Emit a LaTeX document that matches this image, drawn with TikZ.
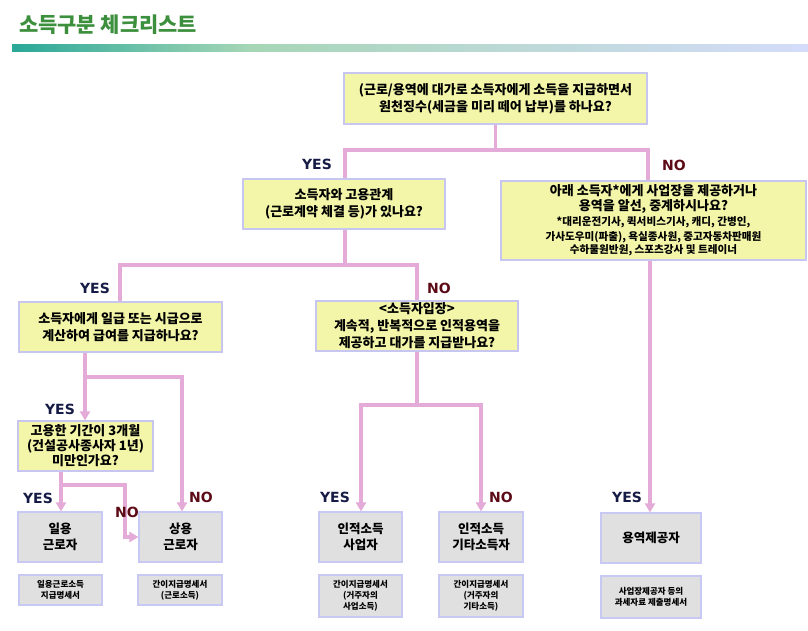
\documentclass[tikz,border=0pt]{standalone}
\usepackage{fontspec}
\setmainfont{Noto Sans CJK KR}
\newfontfamily\latinb{DejaVu Sans}
\usetikzlibrary{arrows.meta}
\definecolor{qfill}{HTML}{F3F6A8}
\definecolor{qedge}{HTML}{C6C6F0}
\definecolor{gfill}{HTML}{E0E0E0}
\definecolor{gedge}{HTML}{C8C8F4}
\definecolor{pinkline}{HTML}{E4AAD8}
\definecolor{yescol}{HTML}{151B45}
\definecolor{nocol}{HTML}{5C0A16}
\definecolor{titlegreen}{HTML}{3C8F3C}
\definecolor{barA}{HTML}{2AA898}
\definecolor{barB}{HTML}{A6D6B6}
\definecolor{barC}{HTML}{D4DCFA}
\tikzset{
  qbox/.style={draw=qedge, fill=qfill, line width=1.2pt, align=center, inner sep=0pt,
    font=\bfseries\fontsize{13}{17}\selectfont},
  gbox/.style={draw=gedge, fill=gfill, line width=1.2pt, align=center, inner sep=0pt,
    font=\bfseries\fontsize{12.5}{16}\selectfont},
  sbox/.style={draw=gedge, fill=gfill, line width=1.2pt, align=center, inner sep=0pt,
    font=\bfseries\fontsize{8.5}{11}\selectfont},
  conn/.style={draw=pinkline, line width=3.2pt},
  aconn/.style={conn, -{Triangle[length=9pt,width=10pt]}, color=pinkline},
  yeslab/.style={text=yescol, font=\latinb\bfseries\fontsize{14}{14}\selectfont, inner sep=0pt},
  nolab/.style={text=nocol, font=\latinb\bfseries\fontsize{14}{14}\selectfont, inner sep=0pt}
}
\begin{document}
\begin{tikzpicture}[x=1pt,y=-1pt]
\useasboundingbox (0,0) rectangle (808,631);
\fill[white] (0,0) rectangle (808,631);
% title
\node[anchor=west, text=titlegreen, font=\bfseries\fontsize{20.9}{21}\selectfont, inner sep=0pt] (title) at (19,25) {소득구분 체크리스트};
\shade[left color=barA, right color=barB] (12,45) rectangle (250,51.5);
\shade[left color=barB, right color=barC] (249.5,45) rectangle (808,51.5);

% question boxes
\node[qbox, minimum width=303pt, minimum height=51pt] (q1) at (495.5,98.5)
  {(근로/용역에 대가로 소득자에게 소득을 지급하면서\\원천징수(세금을 미리 떼어 납부)를 하나요?};
\node[qbox, minimum width=202pt, minimum height=50pt] (q2) at (344,204)
  {소득자와 고용관계\\(근로계약 체결 등)가 있나요?};
\node[qbox, minimum width=305pt, minimum height=79pt, font=\bfseries\fontsize{13}{15}\selectfont] (q3) at (653.5,220.5)
  {아래 소득자*에게 사업장을 제공하거나\\
   용역을 알선, 중계하시나요?\\
   \fontsize{10.6}{13}\selectfont *대리운전기사, 퀵서비스기사, 캐디, 간병인,\\
   \fontsize{10.6}{13}\selectfont 가사도우미(파출), 욕실종사원, 중고자동차판매원\\[-2pt]
   \fontsize{10.6}{13}\selectfont 수하물원반원, 스포츠강사 및 트레이너};
\node[qbox, minimum width=203pt, minimum height=50pt] (q4) at (120.5,327)
  {소득자에게 일급 또는 시급으로\\계산하여 급여를 지급하나요?};
\node[qbox, minimum width=202pt, minimum height=50pt] (q5) at (417,326)
  {<소득자입장>\\계속적, 반복적으로 인적용역을\\제공하고 대가를 지급받나요?};
\node[qbox, minimum width=135pt, minimum height=50pt, font=\bfseries\fontsize{13}{15}\selectfont] (q6) at (85.5,446)
  {고용한 기간이 3개월\\(건설공사종사자 1년)\\미만인가요?};

% result boxes
\node[gbox, minimum width=84pt, minimum height=50pt] (g1) at (60,537) {일용\\근로자};
\node[gbox, minimum width=83pt, minimum height=50pt] (g2) at (180.5,537) {상용\\근로자};
\node[gbox, minimum width=83pt, minimum height=50pt] (g3) at (360.5,537) {인적소득\\사업자};
\node[gbox, minimum width=84pt, minimum height=50pt] (g4) at (481,537) {인적소득\\기타소득자};
\node[gbox, minimum width=100pt, minimum height=50pt] (g5) at (651,538) {용역제공자};

% small boxes
\node[sbox, minimum width=83pt, minimum height=30pt] (s1) at (60.5,590) {일용근로소득\\지급명세서};
\node[sbox, minimum width=84pt, minimum height=30pt] (s2) at (180,590) {간이지급명세서\\(근로소득)};
\node[sbox, minimum width=83pt, minimum height=42pt] (s3) at (360.5,596) {간이지급명세서\\(거주자의\\사업소득)};
\node[sbox, minimum width=84pt, minimum height=42pt] (s4) at (481,596) {간이지급명세서\\(거주자의\\기타소득)};
\node[sbox, minimum width=100pt, minimum height=42pt] (s5) at (651,597) {사업장제공자 등의\\과세자료 제출명세서};

% connectors
\coordinate (j1l) at (345,150);
\coordinate (j1r) at (648,150);
\draw[conn] (q1.south) -- (q1.south |- j1l);
\draw[conn] (q2.north -| j1l) -- (j1l) -- (j1r) -- (q3.north -| j1r);

\coordinate (j2) at (345,265);
\coordinate (j2l) at (120,265);
\coordinate (j2r) at (417,265);
\draw[conn] (q2.south -| j2) -- (j2);
\draw[conn] (q4.north -| j2l) -- (j2l) -- (j2r) -- (q5.north -| j2r);

\coordinate (j3) at (85,377);
\coordinate (j3r) at (182,377);
\draw[aconn] (q4.south -| j3) -- (q6.north -| j3);
\draw[aconn] (j3) -- (j3r) -- (g2.north -| j3r);

\coordinate (j4) at (61,485);
\coordinate (j4r) at (125,485);
\draw[aconn] (q6.south -| j4) -- (g1.north -| j4);
\draw[aconn] (j4) -- (j4r) -- (j4r |- g2.west) -- (g2.west);

\coordinate (j5) at (417,405);
\coordinate (j5l) at (361,405);
\coordinate (j5r) at (481,405);
\draw[conn] (q5.south) -- (j5);
\draw[aconn] (j5) -- (j5l) -- (g3.north -| j5l);
\draw[aconn] (j5) -- (j5r) -- (g4.north -| j5r);

\coordinate (j6) at (650,300);
\draw[aconn] (q3.south -| j6) -- (g5.north -| j6);

% labels
\node[yeslab] (l1) at (317,164) {YES};
\node[nolab] (l2) at (674,165) {NO};
\node[yeslab] (l3) at (95,288) {YES};
\node[nolab] (l4) at (439,288) {NO};
\node[yeslab] (l5) at (60,409) {YES};
\node[yeslab] (l6) at (38,498) {YES};
\node[nolab] (l7) at (127,512) {NO};
\node[nolab] (l8) at (201,497) {NO};
\node[yeslab] (l9) at (335,497) {YES};
\node[nolab] (l10) at (501,497) {NO};
\node[yeslab] (l11) at (627,497) {YES};
\end{tikzpicture}
\end{document}
